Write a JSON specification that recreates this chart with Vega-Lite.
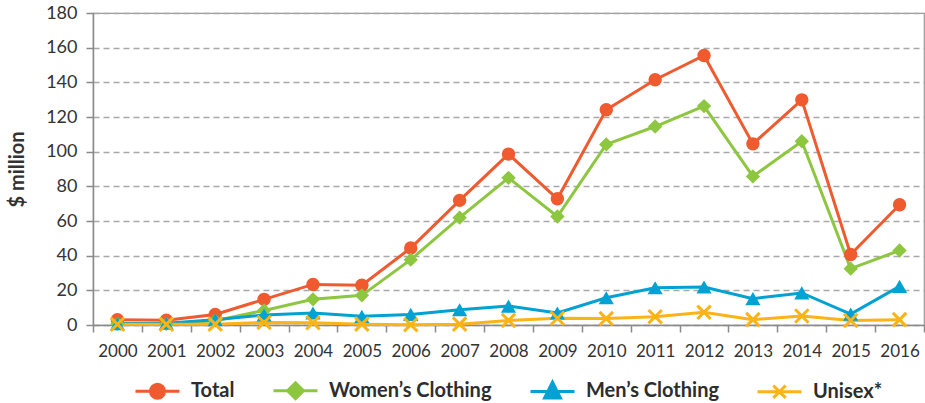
{
  "$schema": "https://vega.github.io/schema/vega-lite/v6.json",
  "width": 831,
  "height": 312,
  "autosize": {"type": "none"},
  "padding": {"left": 93, "top": 13, "right": 1, "bottom": 78},
  "background": "white",
  "config": {
    "font": "Lato",
    "view": {"stroke": "#9a9a9a", "strokeWidth": 1.2},
    "axis": {"labelColor": "#333333", "titleColor": "#333333", "domainColor": "#8a8a8a", "tickColor": "#8a8a8a", "domainWidth": 1.5, "tickWidth": 1.5}
  },
  "datasets": {
    "sales": [
      {"year": "2000", "series": "Total", "value": 3.0},
      {"year": "2001", "series": "Total", "value": 2.8},
      {"year": "2002", "series": "Total", "value": 6.1},
      {"year": "2003", "series": "Total", "value": 14.8},
      {"year": "2004", "series": "Total", "value": 23.4},
      {"year": "2005", "series": "Total", "value": 22.9},
      {"year": "2006", "series": "Total", "value": 44.4},
      {"year": "2007", "series": "Total", "value": 71.9},
      {"year": "2008", "series": "Total", "value": 98.6},
      {"year": "2009", "series": "Total", "value": 72.8},
      {"year": "2010", "series": "Total", "value": 124.2},
      {"year": "2011", "series": "Total", "value": 141.5},
      {"year": "2012", "series": "Total", "value": 155.5},
      {"year": "2013", "series": "Total", "value": 104.5},
      {"year": "2014", "series": "Total", "value": 129.9},
      {"year": "2015", "series": "Total", "value": 40.7},
      {"year": "2016", "series": "Total", "value": 69.4},
      {"year": "2000", "series": "Women’s Clothing", "value": 0.6},
      {"year": "2001", "series": "Women’s Clothing", "value": 0.6},
      {"year": "2002", "series": "Women’s Clothing", "value": 2.5},
      {"year": "2003", "series": "Women’s Clothing", "value": 8.4},
      {"year": "2004", "series": "Women’s Clothing", "value": 14.8},
      {"year": "2005", "series": "Women’s Clothing", "value": 17.1},
      {"year": "2006", "series": "Women’s Clothing", "value": 37.7},
      {"year": "2007", "series": "Women’s Clothing", "value": 61.9},
      {"year": "2008", "series": "Women’s Clothing", "value": 84.9},
      {"year": "2009", "series": "Women’s Clothing", "value": 62.6},
      {"year": "2010", "series": "Women’s Clothing", "value": 104.2},
      {"year": "2011", "series": "Women’s Clothing", "value": 114.5},
      {"year": "2012", "series": "Women’s Clothing", "value": 126.3},
      {"year": "2013", "series": "Women’s Clothing", "value": 85.7},
      {"year": "2014", "series": "Women’s Clothing", "value": 106.0},
      {"year": "2015", "series": "Women’s Clothing", "value": 32.5},
      {"year": "2016", "series": "Women’s Clothing", "value": 43.0},
      {"year": "2000", "series": "Men’s Clothing", "value": 0.8},
      {"year": "2001", "series": "Men’s Clothing", "value": 1.0},
      {"year": "2002", "series": "Men’s Clothing", "value": 3.0},
      {"year": "2003", "series": "Men’s Clothing", "value": 5.8},
      {"year": "2004", "series": "Men’s Clothing", "value": 6.9},
      {"year": "2005", "series": "Men’s Clothing", "value": 5.0},
      {"year": "2006", "series": "Men’s Clothing", "value": 6.1},
      {"year": "2007", "series": "Men’s Clothing", "value": 8.8},
      {"year": "2008", "series": "Men’s Clothing", "value": 10.9},
      {"year": "2009", "series": "Men’s Clothing", "value": 6.9},
      {"year": "2010", "series": "Men’s Clothing", "value": 15.7},
      {"year": "2011", "series": "Men’s Clothing", "value": 21.5},
      {"year": "2012", "series": "Men’s Clothing", "value": 21.9},
      {"year": "2013", "series": "Men’s Clothing", "value": 15.2},
      {"year": "2014", "series": "Men’s Clothing", "value": 18.5},
      {"year": "2015", "series": "Men’s Clothing", "value": 6.3},
      {"year": "2016", "series": "Men’s Clothing", "value": 22.3},
      {"year": "2000", "series": "Unisex*", "value": 0.4},
      {"year": "2001", "series": "Unisex*", "value": 0.4},
      {"year": "2002", "series": "Unisex*", "value": 0.5},
      {"year": "2003", "series": "Unisex*", "value": 1.5},
      {"year": "2004", "series": "Unisex*", "value": 1.3},
      {"year": "2005", "series": "Unisex*", "value": 0.5},
      {"year": "2006", "series": "Unisex*", "value": 0.2},
      {"year": "2007", "series": "Unisex*", "value": 0.5},
      {"year": "2008", "series": "Unisex*", "value": 2.6},
      {"year": "2009", "series": "Unisex*", "value": 3.9},
      {"year": "2010", "series": "Unisex*", "value": 3.7},
      {"year": "2011", "series": "Unisex*", "value": 4.8},
      {"year": "2012", "series": "Unisex*", "value": 7.3},
      {"year": "2013", "series": "Unisex*", "value": 3.1},
      {"year": "2014", "series": "Unisex*", "value": 5.2},
      {"year": "2015", "series": "Unisex*", "value": 2.6},
      {"year": "2016", "series": "Unisex*", "value": 3.1}
    ]
  },
  "data": {"name": "sales"},
  "encoding": {
    "x": {
      "field": "year",
      "type": "ordinal",
      "scale": {"type": "band", "paddingInner": 0, "paddingOuter": 0},
      "axis": {"title": null, "labelAngle": 0, "labelFontSize": 17, "labelPadding": 11, "tickSize": 7, "tickBand": "extent", "grid": false}
    },
    "y": {
      "field": "value",
      "type": "quantitative",
      "scale": {"domain": [0, 180], "nice": false},
      "axis": {
        "title": "$ million",
        "titleFontSize": 20,
        "titleFontWeight": "bold",
        "titlePadding": 18,
        "values": [0, 20, 40, 60, 80, 100, 120, 140, 160, 180],
        "labelFontSize": 18,
        "labelPadding": 9,
        "tickSize": 7,
        "grid": true,
        "gridDash": [6, 4],
        "gridColor": "#a8a8a8",
        "gridWidth": 1.5
      }
    },
    "color": {
      "field": "series",
      "type": "nominal",
      "scale": {
        "domain": ["Total", "Women’s Clothing", "Men’s Clothing", "Unisex*"],
        "range": ["#ef5a2f", "#8dc63f", "#00a2d3", "#fbb317"]
      },
      "legend": {
        "title": null,
        "orient": "none",
        "legendX": 41,
        "legendY": 354,
        "direction": "horizontal",
        "labelFontSize": 20,
        "labelFontWeight": "bold",
        "labelColor": "#2d2d2d",
        "labelLimit": 400,
        "labelOffset": 10,
        "columnPadding": 32,
        "symbolSize": 1936,
        "symbolStrokeWidth": 3,
        "encode": {
          "symbols": {
            "update": {
              "shape": {"signal": "datum.value === 'Total' ? 'M-1,0H1M-0.32,0A0.32,0.32,0,1,0,0.32,0A0.32,0.32,0,1,0,-0.32,0Z' : datum.value === 'Unisex*' ? 'M-1,0H1M-0.28,-0.28L0.28,0.28M0.28,-0.28L-0.28,0.28' : datum.value === 'Men’s Clothing' ? 'M-1,0H1M0,-0.42L0.36,0.3L-0.36,0.3Z' : 'M-1,0H1M0,-0.36L0.36,0L0,0.36L-0.36,0Z'"},
              "fill": {"scale": "color", "field": "value"},
              "stroke": {"scale": "color", "field": "value"},
              "strokeWidth": {"value": 3},
              "opacity": {"value": 1}
            }
          }
        }
      }
    }
  },
  "layer": [
    {"mark": {"type": "line", "strokeWidth": 3}},
    {
      "transform": [{"filter": "datum.series !== 'Unisex*'"}],
      "mark": {"type": "point", "filled": true, "opacity": 1},
      "encoding": {
        "shape": {
          "field": "series",
          "type": "nominal",
          "scale": {"domain": ["Total", "Women’s Clothing", "Men’s Clothing"], "range": ["circle", "diamond", "triangle-up"]},
          "legend": null
        },
        "size": {
          "field": "series",
          "type": "ordinal",
          "scale": {"domain": ["Total", "Women’s Clothing", "Men’s Clothing"], "range": [180, 230, 250]},
          "legend": null
        }
      }
    },
    {
      "transform": [{"filter": "datum.series === 'Unisex*'"}],
      "mark": {"type": "point", "filled": false, "opacity": 1, "strokeWidth": 3, "size": 180, "shape": "M-1,-1L1,1M1,-1L-1,1"}
    }
  ]
}
